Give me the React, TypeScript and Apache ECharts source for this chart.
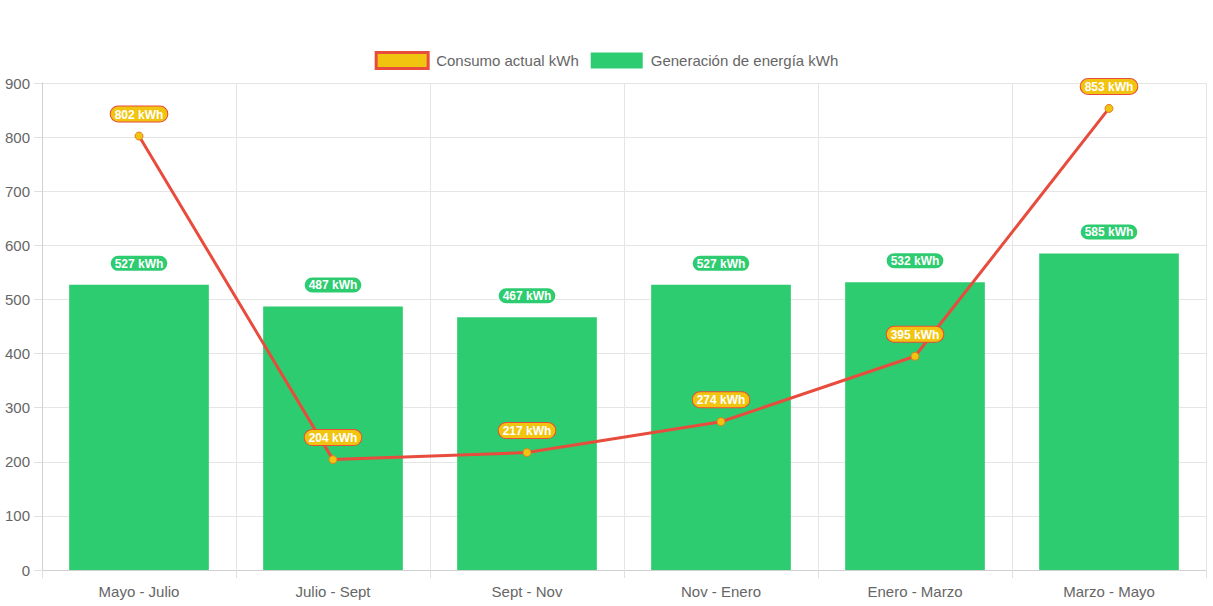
import React, { useEffect, useRef } from "react";
import * as echarts from "echarts";

const categories = ["Mayo - Julio", "Julio - Sept", "Sept - Nov", "Nov - Enero", "Enero - Marzo", "Marzo - Mayo"];
const consumo = [802, 204, 217, 274, 395, 853];
const generacion = [527, 487, 467, 527, 532, 585];
const seriesNames = ["Consumo actual kWh", "Generación de energía kWh"];

const FONT = "'Liberation Sans', Arial, Helvetica, sans-serif";

export default function App() {
  const ref = useRef<HTMLDivElement>(null);
  useEffect(() => {
    if (!ref.current) return;
    const chart = echarts.init(ref.current, undefined, { renderer: "svg" });
    chart.setOption({
      animation: false,
      textStyle: { fontFamily: FONT },
      legend: {
        top: 46,
        left: "center",
        itemWidth: 52,
        itemHeight: 16,
        itemGap: 12,
        textStyle: { color: "#666", fontSize: 15, fontFamily: FONT, padding: [0, 0, 0, 3] },
        data: [
          {
            name: seriesNames[0],
            icon: "rect",
            itemStyle: { color: "#f1c40f", borderColor: "#e74c3c", borderWidth: 3 },
          },
          { name: seriesNames[1], icon: "rect", itemStyle: { color: "#2ecc71" } },
        ],
      },
      grid: { left: 42, right: 7, top: 83, bottom: 36, containLabel: false },
      xAxis: {
        type: "category",
        data: categories,
        boundaryGap: true,
        axisLine: { show: true, lineStyle: { color: "#d0d0d0" } },
        axisTick: { show: true, length: 8, lineStyle: { color: "#e0e0e0" } },
        splitLine: { show: true, lineStyle: { color: "#e5e5e5" } },
        axisLabel: { color: "#666", fontSize: 15, margin: 14, fontFamily: FONT },
      },
      yAxis: {
        type: "value",
        min: 0,
        max: 900,
        interval: 100,
        axisLine: { show: true, lineStyle: { color: "#d0d0d0" } },
        axisTick: { show: true, length: 8, lineStyle: { color: "#e0e0e0" } },
        splitLine: { show: true, lineStyle: { color: "#e5e5e5" } },
        axisLabel: { color: "#666", fontSize: 15, margin: 12, fontFamily: FONT },
      },
      series: [
        {
          name: seriesNames[0],
          type: "line",
          data: consumo,
          z: 5,
          lineStyle: { color: "#e74c3c", width: 3 },
          symbol: "circle",
          symbolSize: 8,
          itemStyle: { color: "#f1c40f", borderColor: "#e67e22", borderWidth: 1 },
          label: {
            show: true,
            position: "top",
            distance: 10,
            formatter: "{c} kWh",
            color: "#fff",
            fontWeight: "bold",
            fontSize: 12,
            fontFamily: FONT,
            backgroundColor: "#f1c40f",
            borderColor: "#e74c3c",
            borderWidth: 1,
            borderRadius: 8,
            padding: [2, 4, 1, 4],
          },
        },
        {
          name: seriesNames[1],
          type: "bar",
          data: generacion,
          barWidth: "72%",
          z: 2,
          itemStyle: { color: "#2ecc71" },
          label: {
            show: true,
            position: "top",
            distance: 14,
            formatter: "{c} kWh",
            color: "#fff",
            fontWeight: "bold",
            fontSize: 12,
            fontFamily: FONT,
            backgroundColor: "#2ecc71",
            borderColor: "#fff",
            borderWidth: 1,
            borderRadius: 8,
            padding: [2, 4, 1, 4],
          },
        },
      ],
    });
    return () => chart.dispose();
  }, []);
  return (
    <div
      ref={ref}
      style={{ position: "fixed", left: 0, top: 0, width: 1213, height: 606, background: "#fff" }}
    />
  );
}
